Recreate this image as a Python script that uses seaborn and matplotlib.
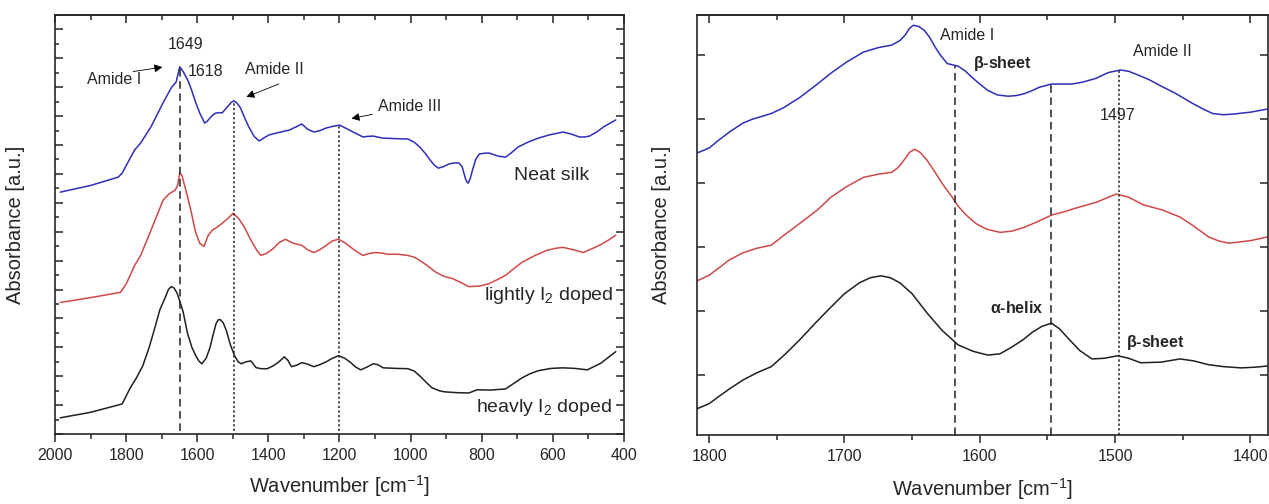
import numpy as np
import pandas as pd
import matplotlib
matplotlib.use("Agg")
import matplotlib.pyplot as plt
from matplotlib.ticker import MultipleLocator, NullFormatter
import seaborn as sns

# ---------------------------
# DATA (arbitrary offsets in a.u.)
# ---------------------------
# full range panel
neat_wn = [1985, 1900, 1822, 1811, 1776, 1759, 1730, 1696, 1673, 1659, 1649, 1639, 1627,
           1616, 1605, 1593, 1579, 1572, 1564, 1555, 1547, 1537, 1530, 1513, 1505, 1497,
           1488, 1478, 1467, 1455, 1440, 1426, 1412, 1398, 1375, 1352, 1340, 1329, 1318,
           1306, 1290, 1272, 1255, 1237, 1218, 1200, 1185, 1168, 1150, 1134, 1120, 1105,
           1090, 1077, 1040, 1008, 990, 974, 958, 945, 933, 922, 908, 893, 878, 864, 855,
           847, 843, 838, 832, 826, 817, 807, 790, 778, 755, 733, 715, 698, 670, 641, 610,
           572, 548, 526, 511, 497, 477, 457, 440, 423]
neat_abs = [8.37, 8.60, 8.89, 9.03, 9.83, 10.07, 10.63, 11.46, 11.98, 12.19, 12.71, 12.53, 12.26,
            11.91, 11.50, 11.11, 10.76, 10.82, 10.94, 11.05, 11.11, 11.12, 11.11, 11.35, 11.47, 11.53,
            11.45, 11.28, 10.95, 10.63, 10.30, 10.14, 10.25, 10.35, 10.42, 10.49, 10.52, 10.59, 10.65,
            10.73, 10.55, 10.45, 10.50, 10.59, 10.65, 10.69, 10.60, 10.49, 10.38, 10.28, 10.30, 10.31,
            10.27, 10.24, 10.22, 10.21, 10.10, 9.93, 9.70, 9.48, 9.30, 9.20, 9.25, 9.34, 9.38, 9.38, 9.25,
            8.89, 8.75, 8.68, 8.85, 9.13, 9.50, 9.69, 9.72, 9.72, 9.62, 9.58, 9.75, 9.93, 10.10, 10.24, 10.35,
            10.45, 10.38, 10.28, 10.28, 10.31, 10.45, 10.63, 10.75, 10.87]

light_wn = [1985, 1900, 1816, 1799, 1776, 1759, 1730, 1712, 1696, 1680, 1662, 1655, 1649,
            1643, 1634, 1625, 1616, 1605, 1593, 1581, 1570, 1558, 1545, 1530, 1515, 1499,
            1483, 1467, 1455, 1444, 1432, 1421, 1405, 1386, 1370, 1352, 1340, 1329, 1306,
            1290, 1272, 1255, 1237, 1220, 1203, 1185, 1168, 1150, 1134, 1115, 1099, 1080,
            1065, 1035, 1008, 990, 974, 950, 928, 905, 882, 860, 836, 805, 778, 755, 733,
            710, 687, 650, 618, 595, 572, 543, 515, 492, 469, 445, 423]
light_abs = [4.55, 4.72, 4.90, 5.21, 5.83, 6.18, 7.05, 7.60, 8.09, 8.30, 8.44, 8.60, 9.03,
             8.95, 8.54, 8.10, 7.64, 7.00, 6.60, 6.49, 6.85, 7.05, 7.15, 7.29, 7.45, 7.64,
             7.45, 7.15, 6.85, 6.60, 6.35, 6.18, 6.25, 6.42, 6.62, 6.74, 6.66, 6.60, 6.53,
             6.38, 6.28, 6.38, 6.53, 6.68, 6.74, 6.62, 6.46, 6.30, 6.18, 6.25, 6.28, 6.26,
             6.22, 6.22, 6.18, 6.12, 6.01, 5.80, 5.59, 5.45, 5.38, 5.25, 5.10, 5.12, 5.21, 5.35, 5.49,
             5.72, 5.94, 6.18, 6.35, 6.42, 6.46, 6.38, 6.28, 6.40, 6.53, 6.70, 6.88]

heavy_wn = [1985, 1900, 1811, 1788, 1771, 1753, 1735, 1719, 1705, 1690, 1681, 1673, 1665,
            1656, 1640, 1627, 1615, 1604, 1595, 1587, 1575, 1564, 1555, 1547, 1541, 1535,
            1527, 1518, 1507, 1495, 1485, 1476, 1462, 1449, 1435, 1421, 1403, 1386, 1370,
            1355, 1345, 1335, 1320, 1306, 1290, 1272, 1255, 1237, 1220, 1203, 1185, 1168,
            1155, 1140, 1122, 1105, 1092, 1077, 1040, 1008, 990, 974, 957, 940, 920, 905,
            870, 836, 813, 775, 733, 710, 687, 665, 641, 605, 572, 538, 503, 465, 423]
heavy_abs = [0.56, 0.75, 1.04, 1.60, 1.94, 2.36, 3.00, 3.68, 4.30, 4.72, 5.00, 5.10, 5.05,
             4.86, 4.25, 3.47, 3.00, 2.71, 2.52, 2.43, 2.62, 2.99, 3.45, 3.82, 3.95, 3.96,
             3.85, 3.58, 3.10, 2.71, 2.50, 2.43, 2.50, 2.53, 2.30, 2.26, 2.26, 2.36, 2.50,
             2.67, 2.55, 2.33, 2.38, 2.47, 2.42, 2.33, 2.40, 2.50, 2.62, 2.71, 2.62, 2.47,
             2.32, 2.22, 2.32, 2.43, 2.40, 2.29, 2.27, 2.26, 2.18, 2.01, 1.80, 1.60, 1.50, 1.46,
             1.43, 1.42, 1.53, 1.52, 1.56, 1.75, 1.94, 2.08, 2.19, 2.27, 2.29, 2.27, 2.22, 2.45, 2.85]

# amide I / II zoom panel
zneat_wn = [1809, 1800, 1793, 1785, 1775, 1768, 1754, 1745, 1733, 1720, 1710, 1698, 1686,
            1675, 1665, 1659, 1655, 1652, 1649, 1645, 1641, 1637, 1633, 1629, 1624, 1620,
            1616, 1611, 1606, 1600, 1594, 1587, 1579, 1573, 1567, 1561, 1556, 1547, 1540,
            1532, 1524, 1514, 1505, 1496, 1490, 1484, 1475, 1467, 1455, 1443, 1435, 1428,
            1420, 1413, 1400, 1387]
zneat_abs = [3.47, 3.55, 3.67, 3.80, 3.94, 4.00, 4.09, 4.18, 4.34, 4.55, 4.72, 4.90, 5.05,
             5.12, 5.16, 5.23, 5.32, 5.42, 5.47, 5.45, 5.39, 5.28, 5.13, 5.00, 4.87, 4.85,
             4.83, 4.76, 4.66, 4.55, 4.45, 4.38, 4.36, 4.37, 4.40, 4.45, 4.50, 4.55, 4.55,
             4.55, 4.58, 4.64, 4.73, 4.77, 4.75, 4.70, 4.62, 4.53, 4.40, 4.25, 4.16, 4.09,
             4.07, 4.08, 4.11, 4.16]

zlight_wn = [1809, 1800, 1793, 1785, 1775, 1765, 1754, 1745, 1733, 1720, 1710, 1698, 1686,
             1675, 1665, 1660, 1656, 1652, 1648, 1644, 1639, 1633, 1627, 1621, 1616, 1610,
             1603, 1595, 1585, 1576, 1567, 1557, 1547, 1538, 1529, 1514, 1499, 1490, 1479,
             1465, 1452, 1442, 1431, 1424, 1416, 1400, 1387]
zlight_abs = [1.47, 1.56, 1.67, 1.80, 1.91, 1.98, 2.03, 2.18, 2.37, 2.58, 2.78, 2.95, 3.09,
              3.14, 3.17, 3.25, 3.36, 3.48, 3.53, 3.48, 3.36, 3.17, 2.97, 2.80, 2.64, 2.50,
              2.37, 2.28, 2.23, 2.25, 2.31, 2.40, 2.50, 2.55, 2.61, 2.70, 2.83, 2.78, 2.66,
              2.58, 2.47, 2.33, 2.16, 2.10, 2.06, 2.10, 2.16]

zheavy_wn = [1809, 1800, 1793, 1785, 1775, 1765, 1754, 1744, 1733, 1722, 1710, 1700, 1689,
             1681, 1673, 1666, 1659, 1650, 1639, 1628, 1616, 1605, 1594, 1585, 1576, 1568,
             1561, 1554, 1547, 1541, 1535, 1526, 1517, 1508, 1498, 1490, 1481, 1466, 1452,
             1442, 1431, 1420, 1407, 1397, 1387]
zheavy_abs = [-0.53, -0.45, -0.34, -0.22, -0.08, 0.03, 0.13, 0.32, 0.55, 0.80, 1.06, 1.27, 1.44,
              1.52, 1.55, 1.52, 1.44, 1.27, 0.97, 0.70, 0.47, 0.37, 0.31, 0.33, 0.44, 0.55,
              0.67, 0.76, 0.81, 0.72, 0.58, 0.38, 0.25, 0.26, 0.30, 0.26, 0.19, 0.20, 0.25,
              0.22, 0.16, 0.13, 0.11, 0.12, 0.14]

samples = ["Neat silk", "lightly doped", "heavly doped"]
colors = ["#2e2eb8", "#d04848", "#202020"]

# band markers
left_bands = [1649, 1497, 1200]
right_bands = [1618, 1547, 1497]


def make_frame(wns, vals):
    parts = []
    for name, wn, ab in zip(samples, wns, vals):
        parts.append(pd.DataFrame({"wavenumber": wn, "absorbance": ab, "sample": name}))
    return pd.concat(parts, ignore_index=True)


full_df = make_frame([neat_wn, light_wn, heavy_wn], [neat_abs, light_abs, heavy_abs])
zoom_df = make_frame([zneat_wn, zlight_wn, zheavy_wn], [zneat_abs, zlight_abs, zheavy_abs])

# ---------------------------
# STYLE
# ---------------------------
sns.set_style("ticks")
plt.rcParams["font.family"] = ["Liberation Sans", "DejaVu Sans"]
plt.rcParams["mathtext.default"] = "regular"
plt.rcParams["axes.linewidth"] = 1.2

fig = plt.figure(figsize=(12.69, 5.04), dpi=100)
ax1 = fig.add_axes([0.0433, 0.1389, 0.4484, 0.8313])
ax2 = fig.add_axes([0.5492, 0.1369, 0.4500, 0.8333])

pal = dict(zip(samples, colors))
for ax, df in [(ax1, full_df), (ax2, zoom_df)]:
    sns.lineplot(data=df, x="wavenumber", y="absorbance", hue="sample", palette=pal,
                 estimator=None, linewidth=1.1, legend=False, ax=ax)
    ax.set_ylabel("Absorbance [a.u.]", fontsize=14.5)
    ax.yaxis.set_major_formatter(NullFormatter())
    ax.tick_params(axis="y", which="both", direction="in", left=True, right=True)
    ax.tick_params(axis="y", which="major", length=5.5, width=1.1)
    ax.tick_params(axis="y", which="minor", length=3, width=1.1)
    ax.tick_params(axis="x", which="both", direction="out", top=False, labelsize=11.5,
                   width=1.1, pad=4)
    ax.tick_params(axis="x", which="major", length=6)
    ax.tick_params(axis="x", which="minor", length=3.5)

# ---------------------------
# LEFT PANEL
# ---------------------------
ax1.set_xlim(2000, 400)
ax1.set_ylim(0, 14.5)
ax1.xaxis.set_major_locator(MultipleLocator(200))
ax1.xaxis.set_minor_locator(MultipleLocator(100))
ax1.yaxis.set_major_locator(MultipleLocator(1))
ax1.yaxis.set_minor_locator(MultipleLocator(0.5))
ax1.set_xlabel(r"Wavenumber [cm$^{-1}$]", fontsize=14.5, labelpad=7)
ax1.yaxis.set_label_coords(-0.053, 0.5)

ax1.vlines(left_bands[0], 0.1, 12.7, colors="#222222", linestyles=(0, (5, 3)), linewidth=1.1)
ax1.vlines(left_bands[1], 0.1, 11.49, colors="#222222", linestyles=(0, (1.5, 1.5)), linewidth=1.1)
ax1.vlines(left_bands[2], 0.1, 10.66, colors="#222222", linestyles=(0, (1.5, 1.5)), linewidth=1.1)

fs = 11.5
ax1.text(1633, 13.47, "1649", fontsize=fs, ha="center", va="center")
ax1.text(1627, 12.53, "1618", fontsize=fs, ha="left", va="center")
ax1.text(1834, 12.26, "Amide I", fontsize=fs, ha="center", va="center")
ax1.text(1384, 12.6, "Amide II", fontsize=fs, ha="center", va="center")
ax1.text(1002, 11.35, "Amide III", fontsize=fs, ha="center", va="center")
arrow = dict(arrowstyle="-|>", color="black", lw=0.6, mutation_scale=12)
ax1.annotate("", xy=(1690, 12.71), xytext=(1788, 12.53), arrowprops=arrow)
ax1.annotate("", xy=(1469, 11.63), xytext=(1363, 12.15), arrowprops=arrow)
ax1.annotate("", xy=(1174, 10.90), xytext=(1100, 11.08), arrowprops=arrow)
ax1.text(604, 8.96, "Neat silk", fontsize=14, ha="center", va="center")
ax1.text(430, 4.79, r"lightly I$_2$ doped", fontsize=14, ha="right", va="center")
ax1.text(434, 0.90, r"heavly I$_2$ doped", fontsize=14, ha="right", va="center")

# ---------------------------
# RIGHT PANEL
# ---------------------------
ax2.set_xlim(1809, 1387)
ax2.set_ylim(-0.94, 5.63)
ax2.xaxis.set_major_locator(MultipleLocator(100))
ax2.xaxis.set_minor_locator(MultipleLocator(50))
ax2.yaxis.set_major_locator(MultipleLocator(1))
ax2.yaxis.set_minor_locator(plt.NullLocator())
ax2.set_xlabel(r"Wavenumber [cm$^{-1}$]", fontsize=14.5, labelpad=9)
ax2.yaxis.set_label_coords(-0.046, 0.5)

ax2.vlines(right_bands[0], -0.94, 4.83, colors="#222222", linestyles=(0, (5, 3)), linewidth=1.1)
ax2.vlines(right_bands[1], -0.94, 4.55, colors="#222222", linestyles=(0, (5, 3)), linewidth=1.1)
ax2.vlines(right_bands[2], -0.94, 4.77, colors="#222222", linestyles=(0, (1.5, 1.5)), linewidth=1.1)

ax2.text(1609, 5.31, "Amide I", fontsize=fs, ha="center", va="center")
ax2.text(1583, 4.87, r"$\beta$-sheet", fontsize=fs, ha="center", va="center", fontweight="bold")
ax2.text(1465, 5.06, "Amide II", fontsize=fs, ha="center", va="center")
ax2.text(1498, 4.06, "1497", fontsize=fs, ha="center", va="center")
ax2.text(1573, 1.05, r"$\alpha$-helix", fontsize=fs, ha="center", va="center", fontweight="bold")
ax2.text(1470, 0.50, r"$\beta$-sheet", fontsize=fs, ha="center", va="center", fontweight="bold")

# top ticks point inward while bottom ones point outward
for ax in (ax1, ax2):
    top = ax.secondary_xaxis("top")
    top.xaxis.set_major_locator(ax.xaxis.get_major_locator())
    top.xaxis.set_minor_locator(ax.xaxis.get_minor_locator())
    top.tick_params(axis="x", which="both", direction="in", labeltop=False, width=1.1)
    top.tick_params(axis="x", which="major", length=6)
    top.tick_params(axis="x", which="minor", length=3.5)
    for s in ax.spines.values():
        s.set_linewidth(1.2)

fig.savefig("out.png", dpi=100)
